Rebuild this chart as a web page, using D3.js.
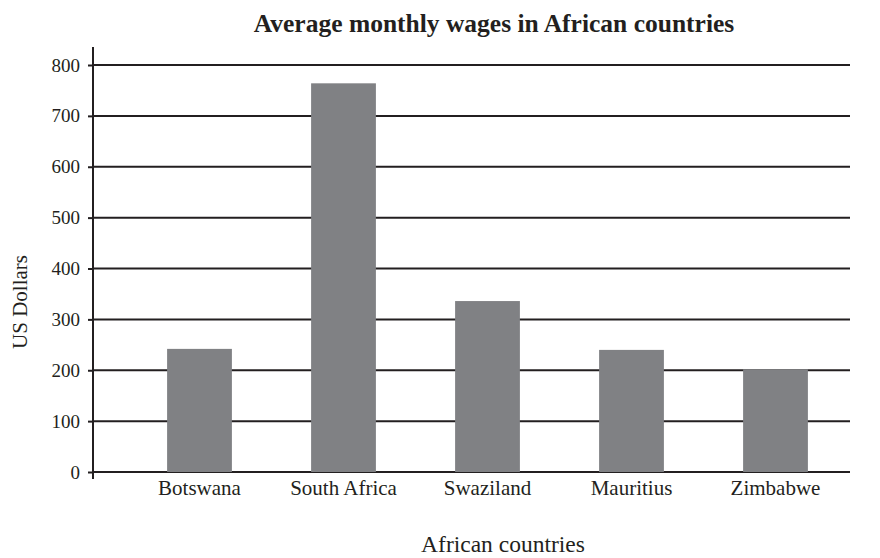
<!DOCTYPE html>
<html>
<head>
<meta charset="utf-8">
<script src="https://cdn.jsdelivr.net/npm/d3@7"></script>
<style>
  body { margin: 0; background: #fff; }
  text { font-family: "Liberation Serif", "DejaVu Serif", serif; fill: #231f20; }
</style>
</head>
<body>
<div id="chart"></div>
<script>
var width = 880,
    height = 558;

// data
var countries = ["Botswana", "South Africa", "Swaziland", "Mauritius", "Zimbabwe"];
var wages     = [242, 764, 336, 240, 202];
var yTicks    = [0, 100, 200, 300, 400, 500, 600, 700, 800];

var ink = "#231f20",
    barColor = "#808184";

var svg = d3.select("#chart").append("svg")
    .attr("width", width)
    .attr("height", height);

var y = d3.scaleLinear()
    .domain([0, 800])
    .range([472, 65]);

var x = d3.scaleBand()
    .domain(countries)
    .range([127.5, 847.5])
    .paddingInner(0.55)
    .paddingOuter(0.275);

var axisX = 93, gridEnd = 850;

// gridlines
svg.append("g")
    .selectAll("line")
    .data(yTicks)
    .enter()
    .append("line")
    .attr("x1", axisX)
    .attr("x2", gridEnd)
    .attr("y1", function(d) { return y(d); })
    .attr("y2", function(d) { return y(d); })
    .style("stroke", ink)
    .style("stroke-width", 2);

// bars
svg.append("g")
    .selectAll("rect")
    .data(countries)
    .enter()
    .append("rect")
    .attr("x", function(d) { return x(d); })
    .attr("width", x.bandwidth())
    .attr("y", function(d, i) { return y(wages[i]); })
    .attr("height", function(d, i) { return y(0) - y(wages[i]); })
    .attr("fill", barColor);

// y axis
var gy = svg.append("g")
    .attr("transform", "translate(" + axisX + ",0)")
    .call(d3.axisLeft(y).tickValues(yTicks).tickSize(5).tickPadding(8).tickFormat(d3.format("d")));
gy.select(".domain").remove();
gy.selectAll(".tick line").style("stroke", ink).style("stroke-width", 2);
gy.selectAll(".tick text")
    .style("font-size", "19px")
    .style("font-family", "Liberation Serif, serif")
    .attr("fill", ink);

svg.append("line")
    .attr("x1", axisX).attr("x2", axisX)
    .attr("y1", 47).attr("y2", 479)
    .style("stroke", ink)
    .style("stroke-width", 2);

// x labels
var gx = svg.append("g")
    .attr("transform", "translate(0," + y(0) + ")")
    .call(d3.axisBottom(x).tickSize(0).tickPadding(8));
gx.select(".domain").remove();
gx.selectAll(".tick text")
    .attr("dy", null)
    .attr("y", 23)
    .style("font-size", "21px")
    .style("font-family", "Liberation Serif, serif")
    .attr("fill", ink);

// title
svg.append("text")
    .attr("x", 494)
    .attr("y", 32)
    .attr("text-anchor", "middle")
    .style("font-size", "25.5px")
    .style("font-weight", "bold")
    .text("Average monthly wages in African countries");

// axis titles
svg.append("text")
    .attr("x", 503)
    .attr("y", 552)
    .attr("text-anchor", "middle")
    .style("font-size", "23.5px")
    .text("African countries");

svg.append("text")
    .attr("transform", "translate(27,302) rotate(-90)")
    .attr("text-anchor", "middle")
    .style("font-size", "21px")
    .text("US Dollars");
</script>
</body>
</html>
